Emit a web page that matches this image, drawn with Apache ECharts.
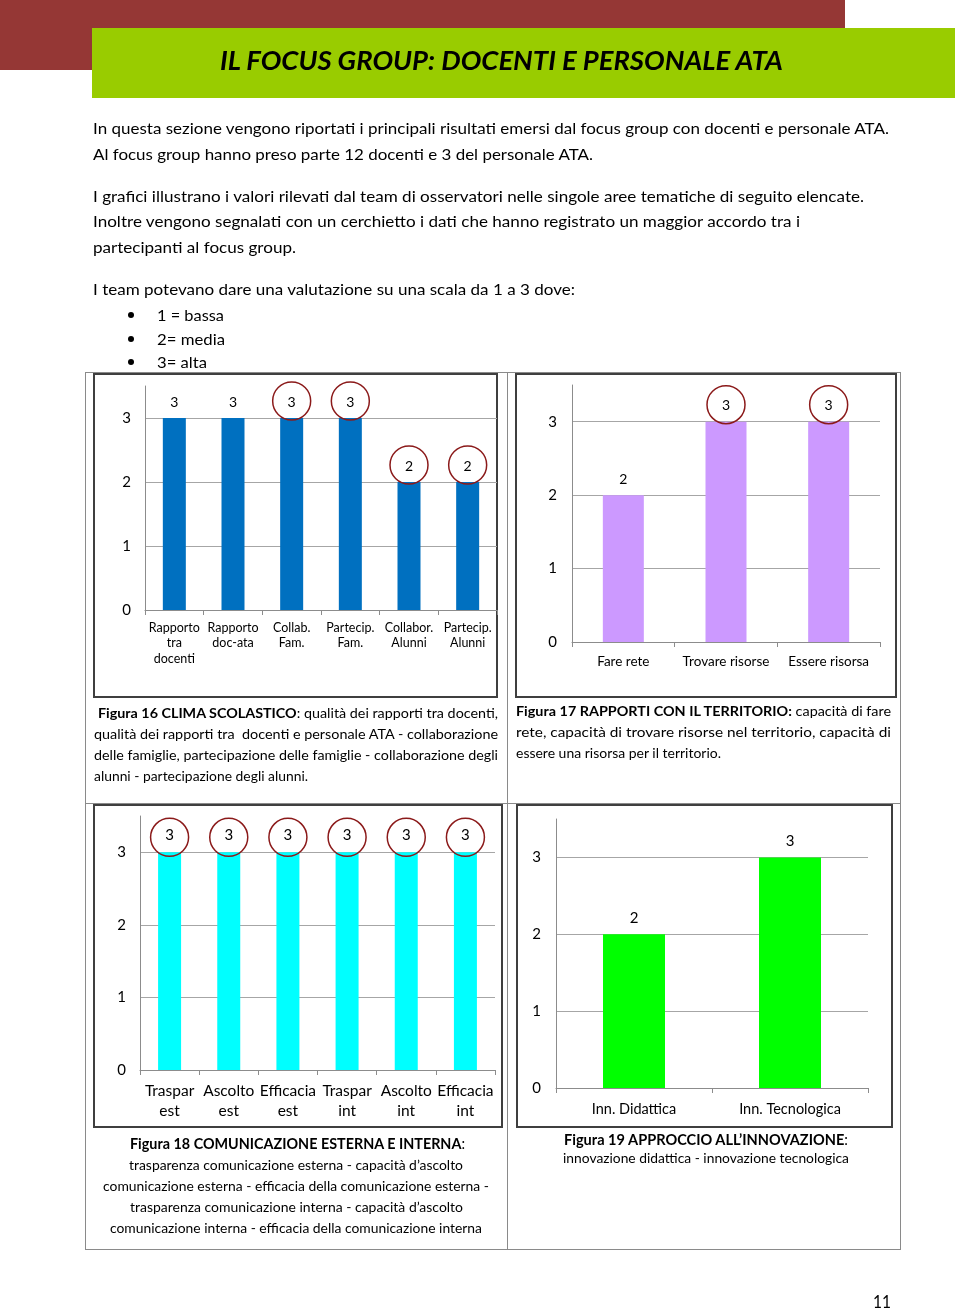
<!DOCTYPE html>
<html><head><meta charset="utf-8">
<script src="https://cdn.jsdelivr.net/npm/echarts@6/dist/echarts.min.js"></script>
<style>
html,body{margin:0;padding:0;background:#fff;}
#page{position:relative;width:960px;height:1309px;overflow:hidden;font-family:Lato,"Noto Sans",sans-serif;color:#000;}
.box{position:absolute;box-sizing:border-box;}
.ln{position:absolute;white-space:nowrap;transform-origin:0 50%;line-height:1;}
#chart{position:absolute;left:0;top:0;width:960px;height:1309px;z-index:2;}
.txt{z-index:3;}
</style></head>
<body><div id="page">
<div id="chart"></div>
</div>
<script>
// ---------------- DATA ----------------
const cat16 = ['Rapporto\ntra\ndocenti', 'Rapporto\ndoc-ata', 'Collab.\nFam.', 'Partecip.\nFam.', 'Collabor.\nAlunni', 'Partecip.\nAlunni'];
const val16 = [3, 3, 3, 3, 2, 2];
const circled16 = [false, false, true, true, true, true];

const cat17 = ['Fare rete', 'Trovare risorse', 'Essere risorsa'];
const val17 = [2, 3, 3];
const circled17 = [false, true, true];

const cat18 = ['Traspar\nest', 'Ascolto\nest', 'Efficacia\nest', 'Traspar\nint', 'Ascolto\nint', 'Efficacia\nint'];
const val18 = [3, 3, 3, 3, 3, 3];
const circled18 = [true, true, true, true, true, true];

const cat19 = ['Inn. Didattica', 'Inn. Tecnologica'];
const val19 = [2, 3];
const circled19 = [false, false];

const yTickLabels = ['0', '1', '2', '3'];

// ---------------- PAGE DECOR ----------------
const page = document.getElementById('page');
function rect(l, t, w, h, css) {
  const d = document.createElement('div');
  d.className = 'box';
  d.style.cssText = `left:${l}px;top:${t}px;width:${w}px;height:${h}px;` + css;
  page.appendChild(d);
}
rect(0, 0, 845, 70, 'background:#953735;');
rect(92, 28, 863, 70, 'background:#99cc00;');
// table lines
const tl = 'background:#8a8a8a;';
rect(85, 372, 1, 878, tl);
rect(507, 372, 1, 878, tl);
rect(900, 372, 1, 878, tl);
rect(85, 372, 816, 1, tl);
rect(85, 803, 816, 1, tl);
rect(85, 1249, 816, 1, tl);
// chart frames
const fr = 'border:2px solid #3f3f3f;';
rect(93, 373, 405, 325, fr);
rect(515, 373, 382, 325, fr);
rect(93, 804, 410, 324, fr);
rect(516, 804, 377, 324, fr);

// text lines: [html, x1, x2, yCenter, size, weight, style]
const lines = [
  ['IL FOCUS GROUP: DOCENTI E PERSONALE ATA', 220, 783, 59, 27, 'bold', 'italic'],
  ['In questa sezione vengono riportati i principali risultati emersi dal focus group con docenti e personale ATA.', 93, 889, 128, 16],
  ['Al focus group hanno preso parte 12 docenti e 3 del personale ATA.', 93, 593, 154, 16],
  ['I grafici illustrano i valori rilevati dal team di osservatori nelle singole aree tematiche di seguito elencate.', 93, 864, 196, 16],
  ['Inoltre vengono segnalati con un cerchietto i dati che hanno registrato un maggior accordo tra i', 93, 800, 221, 16],
  ['partecipanti al focus group.', 93, 296, 247, 16],
  ['I team potevano dare una valutazione su una scala da 1 a 3 dove:', 93, 575, 289, 16],
  ['1 = bassa', 157, 224, 315, 16],
  ['2= media', 157, 225, 339, 16],
  ['3= alta', 157, 207, 362, 16],
  ['<b>Figura 16 CLIMA SCOLASTICO</b>: qualità dei rapporti tra docenti,', 98, 498, 713, 14],
  ['qualità dei rapporti tra&nbsp; docenti e personale ATA - collaborazione', 94, 498, 734, 14],
  ['delle famiglie, partecipazione delle famiglie - collaborazione degli', 94, 498, 755, 14],
  ['alunni - partecipazione degli alunni.', 94, 308, 776, 14],
  ['<b>Figura 17 RAPPORTI CON IL TERRITORIO:</b> capacità di fare', 516, 891, 711, 14],
  ['rete, capacità di trovare risorse nel territorio, capacità di', 516, 891, 732, 14],
  ['essere una risorsa per il territorio.', 516, 721, 753, 14],
  ['<b>Figura 18 COMUNICAZIONE ESTERNA E INTERNA</b>:', 130, 465, 1143, 15],
  ['trasparenza comunicazione esterna - capacità d’ascolto', 129, 463, 1165, 14],
  ['comunicazione esterna - efficacia della comunicazione esterna -', 103, 489, 1186, 14],
  ['trasparenza comunicazione interna - capacità d’ascolto', 130, 463, 1207, 14],
  ['comunicazione interna - efficacia della comunicazione interna', 110, 482, 1228, 14],
  ['<b>Figura 19 APPROCCIO ALL’INNOVAZIONE</b>:', 564, 848, 1139, 15],
  ['innovazione didattica - innovazione tecnologica', 563, 849, 1158, 14],
  ['11', 873, 891, 1301, 17]
];
lines.forEach(l => {
  const s = document.createElement('span');
  s.className = 'ln txt';
  s.innerHTML = l[0];
  s.style.fontSize = l[4] + 'px';
  if (l[5]) s.style.fontWeight = l[5];
  if (l[6]) s.style.fontStyle = l[6];
  s.style.left = l[1] + 'px';
  s.style.top = (l[3] - l[4] / 2) + 'px';
  page.appendChild(s);
  const w = s.getBoundingClientRect().width;
  s.style.transform = `scaleX(${(l[2] - l[1]) / w})`;
});
// bullets
[315, 339, 362].forEach(y => {
  const b = document.createElement('div');
  b.className = 'box txt';
  b.style.cssText = `left:128px;top:${y - 3}px;width:6px;height:6px;border-radius:50%;background:#000;`;
  page.appendChild(b);
});

// ---------------- CHARTS ----------------
const chart = echarts.init(document.getElementById('chart'), null, {renderer: 'canvas'});
const FONT = 'Lato, "Noto Sans", sans-serif';
const cfgs = [
  {cats: cat16, vals: val16, circ: circled16, left: 145, top: 386, width: 352, height: 224, barWidth: 23, color: '#0070c0',
   xFont: 12.5, xLH: 15.5, xMargin: 10, yFont: 15, yMargin: 14, lblFont: 14, lblDist: 9, circOff: 17},
  {cats: cat17, vals: val17, circ: circled17, left: 572, top: 385, width: 308, height: 257, barWidth: 41, color: '#cc99ff',
   xFont: 13.5, xLH: 16, xMargin: 12, yFont: 15, yMargin: 15, lblFont: 14, lblDist: 9, circOff: 17},
  {cats: cat18, vals: val18, circ: circled18, left: 140, top: 816, width: 355, height: 254, barWidth: 23, color: '#00ffff',
   xFont: 15.5, xLH: 20, xMargin: 11, yFont: 15, yMargin: 14, lblFont: 15, lblDist: 10, circOff: 15},
  {cats: cat19, vals: val19, circ: circled19, left: 556, top: 819, width: 312, height: 269, barWidth: 62, color: '#00ff00',
   xFont: 14.5, xLH: 18, xMargin: 12, yFont: 15, yMargin: 15, lblFont: 15, lblDist: 9, circOff: 17}
];
const grid = [], xAxis = [], yAxis = [], series = [];
cfgs.forEach((c, i) => {
  grid.push({left: c.left, top: c.top, width: c.width, height: c.height, containLabel: false});
  xAxis.push({
    type: 'category', gridIndex: i, data: c.cats, boundaryGap: true,
    axisLine: {lineStyle: {color: '#8c8c8c', width: 1}},
    axisTick: {show: true, length: 5, lineStyle: {color: '#8c8c8c'}},
    axisLabel: {color: '#000', fontFamily: FONT, fontSize: c.xFont, lineHeight: c.xLH, margin: c.xMargin, interval: 0}
  });
  yAxis.push({
    type: 'value', gridIndex: i, min: 0, max: 3.5, interval: 1,
    axisLine: {show: true, lineStyle: {color: '#8c8c8c', width: 1}},
    axisTick: {show: false},
    axisLabel: {color: '#000', fontFamily: FONT, fontSize: c.yFont, margin: c.yMargin,
      formatter: v => (Number.isInteger(v) && yTickLabels.indexOf(String(v)) >= 0) ? String(v) : ''},
    splitLine: {show: true, lineStyle: {color: ['#a6a6a6', '#a6a6a6', '#a6a6a6', '#a6a6a6', 'rgba(0,0,0,0)'], width: 1}}
  });
  series.push({
    type: 'bar', xAxisIndex: i, yAxisIndex: i, data: c.vals, barWidth: c.barWidth,
    itemStyle: {color: c.color},
    label: {show: true, position: 'top', distance: c.lblDist, color: '#000', fontFamily: FONT, fontSize: c.lblFont},
    silent: true
  });
  series.push({
    type: 'scatter', xAxisIndex: i, yAxisIndex: i,
    data: c.vals.map((v, k) => c.circ[k] ? v : '-'),
    symbol: 'circle', symbolSize: 38, symbolOffset: [0, -c.circOff],
    itemStyle: {color: 'rgba(0,0,0,0)', borderColor: '#8b1a1a', borderWidth: 1.5, opacity: 1},
    z: 5, silent: true
  });
});
chart.setOption({animation: false, grid, xAxis, yAxis, series});
</script>
</body></html>
